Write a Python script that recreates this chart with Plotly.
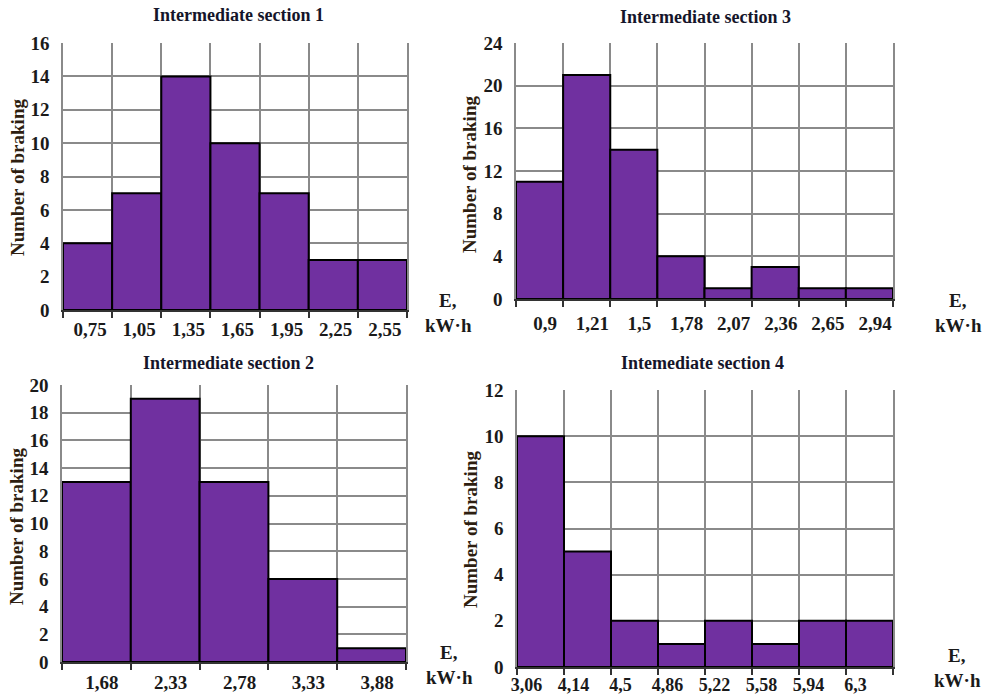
import plotly.graph_objects as go

# ---- data ----
titles = ["Intermediate section 1", "Intermediate section 3",
          "Intermediate section 2", "Intemediate section 4"]
labels1 = ["0,75", "1,05", "1,35", "1,65", "1,95", "2,25", "2,55"]
counts1 = [4, 7, 14, 10, 7, 3, 3]
labels3 = ["0,9", "1,21", "1,5", "1,78", "2,07", "2,36", "2,65", "2,94"]
counts3 = [11, 21, 14, 4, 1, 3, 1, 1]
labels2 = ["1,68", "2,33", "2,78", "3,33", "3,88"]
counts2 = [13, 19, 13, 6, 1]
labels4 = ["3,06", "4,14", "4,5", "4,86", "5,22", "5,58", "5,94", "6,3"]
counts4 = [10, 5, 2, 1, 2, 1, 2, 2]
ymax = [16, 24, 20, 12]
ystep = [2, 4, 2, 2]

W, H = 988, 697
# panel pixel boxes: (x0, x1, ytop, ybottom)
boxes = [(63, 407, 43, 310), (516, 893, 43, 299), (62, 406, 385, 662), (517, 893, 390, 667)]
label_offsets = [0.55, 0.62, 0.58, 0.2]
label_standoff = [1, 6, 2, 1]
label_size = [19, 19, 19, 18]
title_pos = [(238, 15), (705, 17), (228, 363), (702, 363)]
ytitle_pos = [(17, 178), (469, 175), (16, 527), (470, 530)]
eunit_pos = [(448, 300), (958, 300), (449, 652), (957, 655)]

panels = [(labels1, counts1), (labels3, counts3), (labels2, counts2), (labels4, counts4)]

FONT = "Liberation Serif"
BAR = "#7030A0"
GRID = "#8a8a8a"
TXT = "#1a1a1a"

fig = go.Figure()
layout = dict(width=W, height=H, margin=dict(l=0, r=0, t=0, b=0, autoexpand=False),
              paper_bgcolor="white", plot_bgcolor="white", showlegend=False,
              font=dict(family=FONT, color=TXT))
annotations = []

for k, ((labs, vals), (x0, x1, yt, yb)) in enumerate(zip(panels, boxes)):
    n = len(vals)
    xa = "x" if k == 0 else f"x{k+1}"
    ya = "y" if k == 0 else f"y{k+1}"
    fig.add_trace(go.Bar(x=[i + 0.5 for i in range(n)], y=vals, width=1,
                         marker=dict(color=BAR, line=dict(color="black", width=2)),
                         xaxis=xa, yaxis=ya, hoverinfo="skip"))
    xkey = "xaxis" if k == 0 else f"xaxis{k+1}"
    ykey = "yaxis" if k == 0 else f"yaxis{k+1}"
    layout[xkey] = dict(domain=[x0 / W, x1 / W], anchor=ya, range=[0, n], automargin=False,
                        tickmode="array", tickvals=[i + label_offsets[k] for i in range(n)],
                        ticktext=labs, ticks="", showgrid=False, zeroline=False,
                        showline=True, linecolor="#333", linewidth=1.5, mirror=False,
                        tickfont=dict(family=FONT, size=label_size[k], color=TXT, weight="bold"),
                        ticklabelstandoff=label_standoff[k],
                        minor=dict(tickmode="array", tickvals=list(range(n + 1)), ticks="outside",
                                   ticklen=6, tickcolor="#333", tickwidth=1.5,
                                   showgrid=True, gridcolor=GRID, gridwidth=1.5))
    layout[ykey] = dict(domain=[1 - yb / H, 1 - yt / H], anchor=xa, range=[0, ymax[k]], automargin=False,
                        tickmode="linear", tick0=0, dtick=ystep[k], showgrid=True,
                        gridcolor=GRID, gridwidth=1.5, zeroline=False, ticks="",
                        showline=True, linecolor=GRID, linewidth=1.5, mirror=True,
                        tickfont=dict(family=FONT, size=19, color=TXT, weight="bold"),
                        ticklabelstandoff=8)
    tx, ty = title_pos[k]
    annotations.append(dict(text=f"<b>{titles[k]}</b>", x=tx / W, y=1 - ty / H, xref="paper", yref="paper",
                            showarrow=False, xanchor="center", yanchor="middle",
                            font=dict(family=FONT, size=18, color="#15152a")))
    ax_, ay_ = ytitle_pos[k]
    annotations.append(dict(text="<b>Number of braking</b>", x=ax_ / W, y=1 - ay_ / H, xref="paper", yref="paper",
                            showarrow=False, textangle=-90, xanchor="center", yanchor="middle",
                            font=dict(family=FONT, size=19, color="#2e1e10")))
    ex, ey = eunit_pos[k]
    annotations.append(dict(text="<b>E,</b>", x=ex / W, y=1 - ey / H, xref="paper", yref="paper",
                            showarrow=False, xanchor="center", yanchor="middle",
                            font=dict(family=FONT, size=19, color=TXT)))
    annotations.append(dict(text="<b>kW·h</b>", x=ex / W, y=1 - (ey + 25) / H, xref="paper", yref="paper",
                            showarrow=False, xanchor="center", yanchor="middle",
                            font=dict(family=FONT, size=19, color=TXT)))

layout["annotations"] = annotations
fig.update_layout(**layout)
fig.write_html("out.html", config={"displayModeBar": False},
               post_script="document.body.style.margin='0px';")
